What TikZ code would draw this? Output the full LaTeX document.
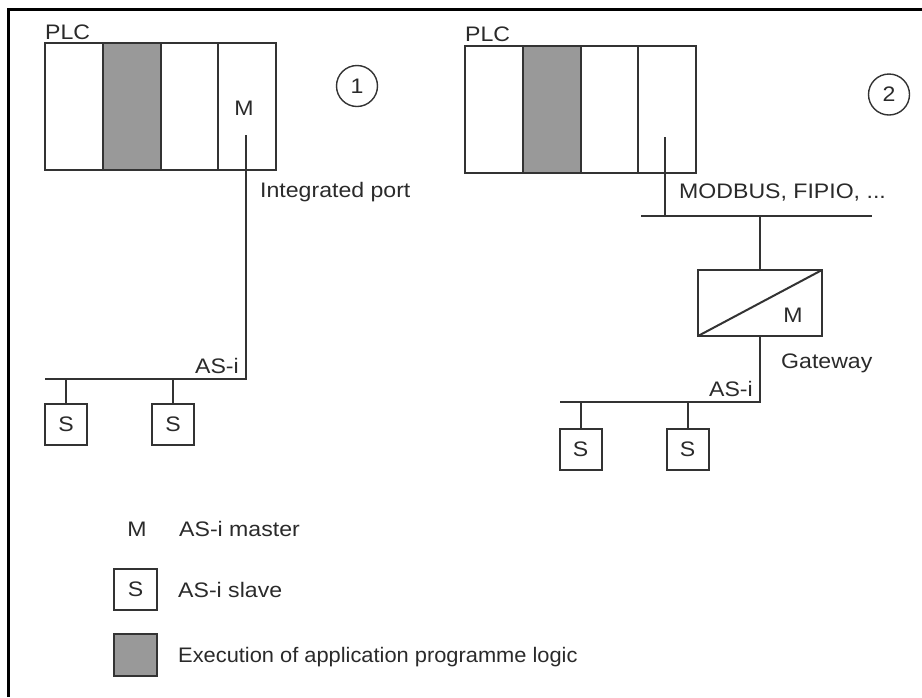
\documentclass[tikz,border=0pt]{standalone}
\usepackage{fontspec}
\setmainfont[FakeStretch=1.1]{Liberation Sans}
\newfontfamily\narrowsans[FakeStretch=1.04]{Liberation Sans}
\definecolor{linegray}{HTML}{333333}
\definecolor{textgray}{HTML}{2A2A2A}
\definecolor{execgray}{HTML}{999999}
\begin{document}
\begin{tikzpicture}[x=1pt,y=-1pt,
  wire/.style={draw=linegray, line width=2pt},
  module/.style={draw=linegray, line width=2pt, minimum width=57.75pt,
    minimum height=127pt, inner sep=0pt, outer sep=0pt, anchor=north west},
  exec/.style={module, fill=execgray},
  slave/.style={draw=linegray, line width=2pt, minimum width=42pt,
    minimum height=41pt, inner sep=0pt, outer sep=0pt, text=textgray,
    font=\fontsize{21}{25}\selectfont},
  lbl/.style={font=\fontsize{21}{25}\selectfont, text=textgray, inner sep=0pt},
  num/.style={circle, draw=linegray, line width=1.4pt, minimum size=41pt,
    inner sep=0pt, text=textgray, font=\fontsize{21}{25}\selectfont}]
\useasboundingbox (0,0) rectangle (922,697);

% outer frame
\draw[line width=3pt, black] (8,697) -- (8,9.5) -- (922,9.5);

% ---------- configuration 1: integrated port ----------
\node[lbl, anchor=base west] (plcAlabel) at (45,39) {PLC};
\node[module] (plcA1) at (45,43) {};
\node[exec]   (plcA2) at (102.75,43) {};
\node[module] (plcA3) at (160.5,43) {};
\node[module] (plcA4) at (218.25,43) {};
\node[lbl, anchor=base] (mA) at (244,115) {M};
\node[num] (numA) at (357,86) {1};
\node[lbl, anchor=base west] (portlabel) at (260,197) {Integrated port};

\coordinate (portA) at (246,135);
\coordinate (busAend) at (246,379);
\coordinate (busAstart) at (45,379);
\draw[wire] (portA) -- (busAend) -- (busAstart);
\node[lbl, anchor=base east] (asiA) at (239,373) {AS-i};

\node[slave] (sA1) at (66,424.5) {S};
\node[slave] (sA2) at (173,424.5) {S};
\draw[wire] (sA1.north) -- (sA1.north |- busAend);
\draw[wire] (sA2.north) -- (sA2.north |- busAend);

% ---------- configuration 2: gateway ----------
\node[lbl, anchor=base west] (plcBlabel) at (465,41) {PLC};
\node[module] (plcB1) at (465,46) {};
\node[exec]   (plcB2) at (522.75,46) {};
\node[module] (plcB3) at (580.5,46) {};
\node[module] (plcB4) at (638.25,46) {};
\node[num] (numB) at (889,94.5) {2};

\coordinate (portB) at (665,137);
\coordinate (fieldL) at (641,216);
\coordinate (fieldR) at (872,216);
\draw[wire] (portB) -- (portB |- fieldL);
\draw[wire] (fieldL) -- (fieldR);
\node[lbl, anchor=base west] (fieldlabel) at (679,198) {MODBUS, FIPIO, ...};

\node[draw=linegray, line width=2pt, minimum width=124pt, minimum height=66pt,
  inner sep=0pt, outer sep=0pt] (gw) at (760,303) {};
\draw[wire] (gw.south west) -- (gw.north east);
\node[lbl, anchor=base] (mB) at (793,322) {M};
\draw[wire] (gw.north |- fieldL) -- (gw.north);
\node[lbl, anchor=base west] (gwlabel) at (781,368) {Gateway};

\coordinate (busBend) at (760,402);
\coordinate (busBstart) at (560,402);
\draw[wire] (gw.south) -- (busBend) -- (busBstart);
\node[lbl, anchor=base east] (asiB) at (753,396) {AS-i};

\node[slave] (sB1) at (580.5,449) {S};
\node[slave] (sB2) at (687.5,449) {S};
\draw[wire] (sB1.north) -- (sB1.north |- busBend);
\draw[wire] (sB2.north) -- (sB2.north |- busBend);

% ---------- legend ----------
\node[lbl, anchor=base] (legM) at (137,536) {M};
\node[lbl, anchor=base west] (legMtext) at (179,536) {AS-i master};
\node[slave, minimum width=43pt] (legS) at (135.5,589.5) {S};
\node[lbl, anchor=base west] (legStext) at (178,597) {AS-i slave};
\node[slave, minimum width=43pt, minimum height=42pt, fill=execgray] (legE) at (135.5,655) {};
\node[lbl, anchor=base west, font=\narrowsans\fontsize{21}{25}\selectfont] (legEtext) at (178,662) {Execution of application programme logic};
\end{tikzpicture}
\end{document}
